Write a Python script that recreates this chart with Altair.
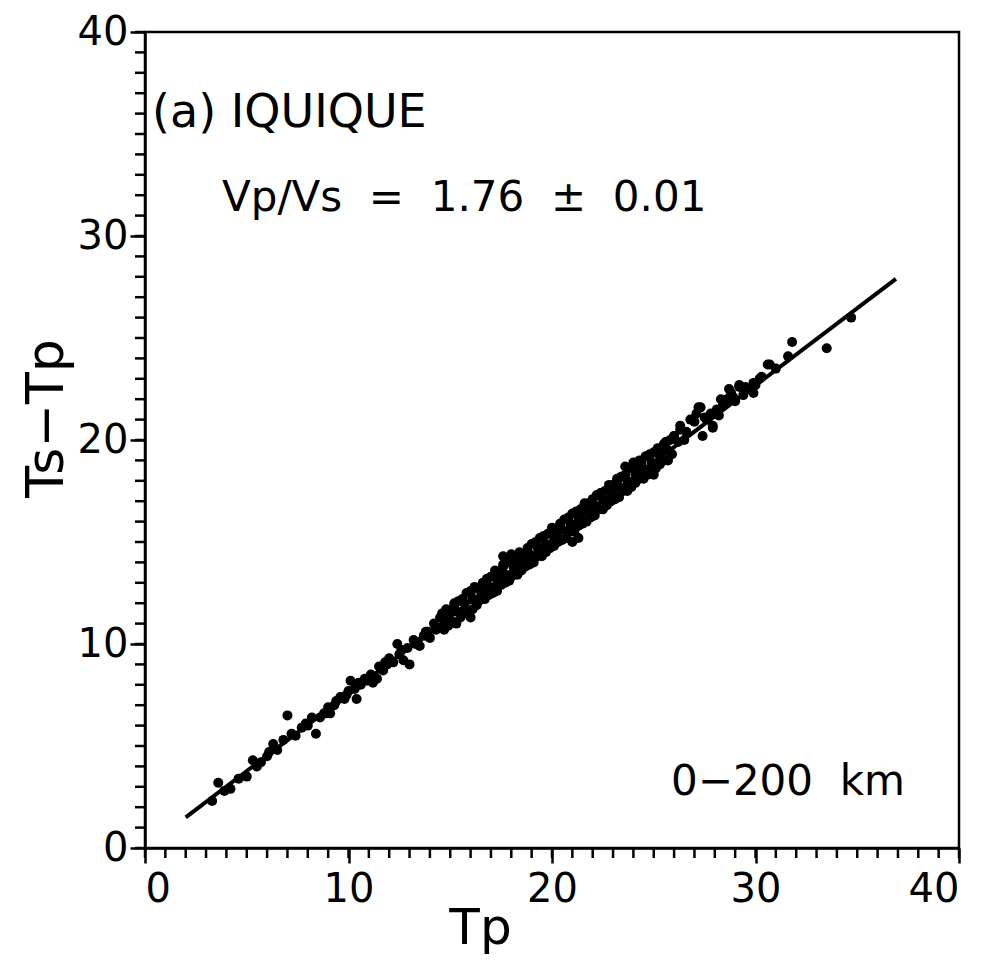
import altair as alt
import pandas as pd

# ---- data ----
tp = [
    3.3, 3.6, 3.9, 4.2, 4.6, 5.0, 5.3, 5.7, 6.0, 6.3, 6.5, 6.8, 7.0, 7.2, 7.4, 7.7, 8.0, 8.2, 8.4, 8.6,
    8.8, 9.0, 9.1, 9.3, 9.4, 9.6, 9.8, 10.0, 10.1, 10.3, 10.4, 10.6, 10.8, 10.9, 11.1, 11.2, 11.4, 11.5,
    11.7, 11.9, 12.0, 12.2, 12.4, 12.5, 12.7, 12.9, 13.0, 13.2, 13.4, 13.5, 13.7, 13.8, 14.0, 14.2, 14.3, 14.5,
    5.5, 6.1, 7.9, 8.9, 9.9, 10.5, 11.8, 12.6, 13.3, 13.9,
    14.6, 14.8, 15.0, 15.2, 15.4, 15.6, 15.8, 16.0, 16.2, 16.4, 16.6, 16.8, 17.0, 17.2, 17.4, 17.6, 17.8, 18.0,
    18.2, 18.4, 18.6, 18.8, 19.0, 19.2, 19.4, 19.6, 19.8, 20.0, 20.2, 20.4, 20.6, 20.8, 21.0, 21.2, 21.4, 21.6,
    21.8, 22.0, 22.2, 22.4, 22.6, 22.8, 23.0, 23.2, 23.4, 23.6, 23.8, 24.0, 24.2, 24.4, 24.6, 24.8, 25.0, 25.2,
    25.4, 25.6, 25.8, 26.0,
    14.7, 14.9, 15.1, 15.3, 15.5, 15.7, 15.9, 16.1, 16.3, 16.5, 16.7, 16.9, 17.1, 17.3, 17.5, 17.7, 17.9, 18.1,
    18.3, 18.5, 18.7, 18.9, 19.1, 19.3, 19.5, 19.7, 19.9, 20.1, 20.3, 20.5, 20.7, 20.9, 21.1, 21.3, 21.5, 21.7,
    21.9, 22.1, 22.3, 22.5, 22.7, 22.9, 23.1, 23.3, 23.5, 23.7, 23.9, 24.1, 24.3, 24.5, 24.7, 24.9, 25.1, 25.3,
    25.5, 25.7, 25.9,
    14.9, 15.3, 15.7, 16.1, 16.5, 16.9, 17.3, 17.7, 18.1, 18.5, 18.9, 19.3, 19.7, 20.1, 20.5, 20.9, 21.3, 21.7,
    22.1, 22.5, 22.9, 23.3, 23.7, 24.1, 24.5, 24.9, 25.3, 25.7,
    14.8, 15.2, 15.6, 16.0, 16.4, 16.8, 17.2, 17.6, 18.0, 18.4, 18.8, 19.2, 19.6, 20.0, 20.4, 20.8, 21.2, 21.6,
    22.0, 22.4, 22.8, 23.2, 23.6, 24.0, 24.4, 24.8, 25.2, 25.6,
    17.6, 18.0, 21.0, 21.3, 24.0, 24.3, 23.6, 25.0, 16.0,
    26.0, 26.3, 26.3, 26.8, 26.9, 27.1, 27.2, 27.3, 27.4, 27.9, 27.9, 28.1, 28.1, 28.3, 28.4, 28.6, 28.7, 29.2,
    29.2, 29.6, 29.9, 29.9, 30.0, 30.6, 30.7, 31.6, 31.8, 33.5, 34.7,
    25.5, 25.8, 26.5, 27.6, 28.9, 29.4, 30.3, 31.0,
    26.2, 26.6, 27.0, 27.5, 27.8, 28.2, 28.8, 29.0, 29.5, 30.2,
]
ts_tp = [
    2.3, 3.2, 2.8, 2.9, 3.4, 3.5, 4.3, 4.2, 4.5, 5.1, 4.8, 5.3, 6.5, 5.6, 5.5, 5.9, 6.0, 6.4, 5.6, 6.4,
    6.6, 6.9, 6.6, 7.0, 7.2, 7.4, 7.3, 7.7, 8.2, 7.8, 7.3, 8.0, 8.3, 8.2, 8.5, 8.1, 8.3, 8.9,
    8.7, 9.0, 9.3, 9.1, 10.0, 9.5, 9.2, 9.8, 9.0, 10.2, 10.1, 9.9, 10.4, 10.6, 10.3, 11.0, 10.7, 11.3,
    4.0, 4.7, 6.1, 6.6, 7.5, 8.1, 9.1, 9.7, 10.0, 10.6,
    11.5, 11.7, 11.6, 12.0, 12.1, 12.2, 12.5, 12.5, 12.8, 12.7, 13.0, 13.2, 13.3, 13.6, 13.5, 13.9, 14.0, 14.1,
    14.2, 14.5, 14.4, 14.7, 14.9, 14.9, 15.2, 15.3, 15.4, 15.7, 15.6, 15.9, 16.1, 16.1, 16.4, 16.5, 16.6, 16.9,
    16.9, 17.1, 17.3, 17.4, 17.5, 17.8, 17.8, 18.1, 18.2, 18.3, 18.6, 18.8, 18.6, 18.9, 19.2, 19.2, 19.4, 19.6,
    19.6, 19.9, 20.0, 20.2,
    10.7, 10.9, 11.1, 11.0, 11.3, 11.5, 11.6, 11.7, 11.9, 12.2, 12.2, 12.4, 12.5, 12.6, 12.9, 13.0, 13.1, 13.4,
    13.4, 13.6, 13.8, 13.9, 14.0, 14.3, 14.3, 14.5, 14.7, 14.8, 15.0, 15.1, 15.2, 15.5, 15.5, 15.8, 15.9, 16.0,
    16.2, 16.3, 16.6, 16.6, 16.8, 17.0, 17.1, 17.2, 17.5, 17.5, 17.7, 17.9, 18.1, 18.1, 18.3, 18.5, 18.6, 18.8,
    19.0, 19.0, 19.3,
    11.4, 11.6, 12.0, 12.2, 12.6, 12.8, 13.2, 13.4, 13.8, 14.0, 14.4, 14.7, 14.9, 15.3, 15.6, 15.9, 16.2, 16.5,
    16.8, 17.1, 17.4, 17.7, 18.0, 18.3, 18.6, 18.9, 19.2, 19.5,
    10.9, 11.9, 11.5, 12.6, 12.1, 13.1, 12.8, 13.8, 13.3, 14.3, 14.0, 15.0, 14.5, 15.6, 15.1, 16.2, 15.8, 16.8,
    16.4, 17.4, 17.0, 18.0, 17.6, 18.7, 18.2, 19.3, 18.8, 19.9,
    14.3, 14.4, 15.0, 15.2, 18.9, 19.0, 18.7, 18.3, 11.3,
    20.2, 20.5, 20.7, 21.0, 21.0, 21.3, 21.6, 21.6, 20.2, 20.6, 20.7, 21.5, 21.4, 22.0, 21.7, 22.0, 22.5, 22.6,
    22.7, 22.5, 22.3, 22.8, 22.7, 23.7, 23.7, 24.1, 24.8, 24.5, 26.0,
    19.8, 19.4, 20.0, 21.0, 22.1, 22.2, 23.1, 23.5,
    19.9, 20.4, 20.9, 21.1, 21.3, 21.2, 22.3, 21.9, 22.6, 23.0,
]
fit_tp = [2.0, 36.9]
fit_ts_tp = [1.5, 27.9]
major_ticks = [0, 10, 20, 30, 40]
minor_ticks = list(range(0, 41))
NB = "\u00a0"
annot_texts = ["(a) IQUIQUE",
               "Vp/Vs" + NB * 2 + "=" + NB * 2 + "1.76" + NB * 2 + "\u00b1" + NB * 2 + "0.01",
               "0\u2212200" + NB * 2 + "km"]

FONT = "DejaVu Sans"
W, H = 814, 816

pts = pd.DataFrame({"Tp": tp, "TsTp": ts_tp})
fit = pd.DataFrame({"Tp": fit_tp, "TsTp": fit_ts_tp})
ticks = pd.DataFrame({"v": minor_ticks})

xs = alt.Scale(domain=[0, 40], nice=False, zero=False)
ys = alt.Scale(domain=[0, 40], nice=False, zero=False)

xaxis = alt.Axis(values=major_ticks, title="Tp", tickSize=15, labelPadding=6,
                 labelFontSize=40, titleFontSize=50, titleX=335, titleY=95,
                 titleBaseline="alphabetic", titleAlign="center")
yaxis = alt.Axis(values=major_ticks, title="Ts\u2212Tp", tickSize=15, labelPadding=2,
                 labelFontSize=40, titleFontSize=52, titleX=-83, titleY=386,
                 titleAngle=270, titleBaseline="alphabetic", titleAlign="center")

points = alt.Chart(pts).mark_circle(size=100, color="black", opacity=1).encode(
    x=alt.X("Tp:Q", scale=xs, axis=xaxis),
    y=alt.Y("TsTp:Q", scale=ys, axis=yaxis),
)

line = alt.Chart(fit).mark_line(color="black", strokeWidth=4).encode(
    x=alt.X("Tp:Q", scale=xs, axis=xaxis),
    y=alt.Y("TsTp:Q", scale=ys, axis=yaxis),
)

xminor = alt.Chart(ticks).mark_rule(color="black", strokeWidth=2.5).encode(
    x=alt.X("v:Q", scale=xs, axis=xaxis),
    y=alt.value(H), y2=alt.value(H + 10),
)
yminor = alt.Chart(ticks).mark_rule(color="black", strokeWidth=2.5).encode(
    y=alt.Y("v:Q", scale=ys, axis=yaxis),
    x=alt.value(0), x2=alt.value(-10),
)

def label(txt, px, py, align, size):
    return alt.Chart(pd.DataFrame({"t": [txt]})).mark_text(
        align=align, baseline="alphabetic", font=FONT, fontSize=size, color="black"
    ).encode(text="t:N", x=alt.value(px), y=alt.value(py))

t1 = label(annot_texts[0], 7, 95, "left", 46)
t2 = label(annot_texts[1], 77, 179, "left", 42)
t3 = label(annot_texts[2], 760, 763, "right", 42)

chart = alt.layer(points, line, xminor, yminor, t1, t2, t3).properties(
    width=W, height=H,
    autosize=alt.AutoSizeParams(type="none"),
    padding={"left": 137, "top": 24, "right": 25, "bottom": 112},
).configure_view(
    stroke="black", strokeWidth=2.5
).configure_axis(
    domainColor="black", domainWidth=2.5, tickColor="black", tickWidth=2.5,
    labelColor="black", titleColor="black", labelFont=FONT, titleFont=FONT,
    titleFontWeight="normal", grid=False,
)

chart.save("out.html", embed_options={"renderer": "svg", "actions": False})
